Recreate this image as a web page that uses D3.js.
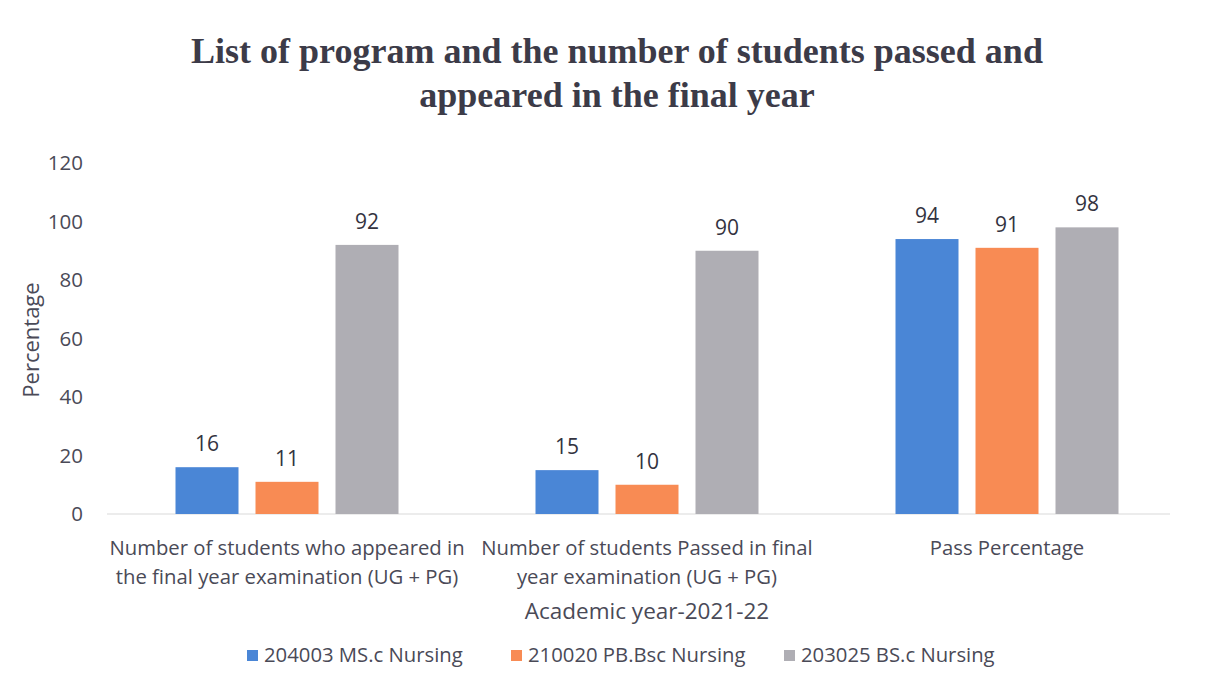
<!DOCTYPE html>
<html><head><meta charset="utf-8">
<script src="https://cdn.jsdelivr.net/npm/d3@7"></script>
<style>
body{margin:0;background:#fff;}
svg{display:block;}
</style></head>
<body>
<svg id="chart" width="1220" height="685"></svg>
<script>
const categories = [
  ["Number of students who appeared in", "the final year examination (UG + PG)"],
  ["Number of students Passed in final", "year examination (UG + PG)"],
  ["Pass Percentage"]
];
const seriesNames = ["204003 MS.c Nursing", "210020 PB.Bsc Nursing", "203025 BS.c Nursing"];
const msc = [16, 15, 94];
const pbbsc = [11, 10, 91];
const bsc = [92, 90, 98];
const yTicks = [0, 20, 40, 60, 80, 100, 120];
const colors = ["#4a86d6", "#f88b54", "#afaeb4"];

(function () {
const seriesValues = [msc, pbbsc, bsc];
const svg = d3.select("#chart");
const font = "'Open Sans', sans-serif";
const textColor = "#4a4a57";

const pLeft = 107, pRight = 1187, pTop = 163, pBottom = 514;
const x0 = d3.scaleBand().domain(d3.range(categories.length)).range([pLeft, pRight]).paddingInner(0).paddingOuter(0);
const x1 = d3.scaleBand().domain(d3.range(seriesNames.length)).range([0, 223]).paddingInner(17/80).paddingOuter(0);
const y = d3.scaleLinear().domain([0, 120]).range([pBottom, pTop]);

// title
const title = svg.append("text").attr("x", 617).attr("y", 63).attr("text-anchor", "middle")
  .attr("font-family", "'Liberation Serif', 'Times New Roman', serif").attr("font-weight", "bold")
  .attr("font-size", 36).attr("fill", "#3c3b48");
title.append("tspan").attr("x", 617).attr("y", 63).text("List of program and the number of students passed and");
title.append("tspan").attr("x", 617).attr("y", 107).text("appeared in the final year");

// y axis
const yAxis = d3.axisLeft(y).tickValues(yTicks).tickSize(0).tickPadding(24);
const ya = svg.append("g").attr("transform", `translate(${pLeft},0)`).call(yAxis);
ya.select(".domain").remove();
ya.selectAll("text").attr("font-family", font).attr("font-size", 20.5).attr("fill", textColor);

// baseline
svg.append("line").attr("x1", pLeft).attr("x2", 1170).attr("y1", pBottom).attr("y2", pBottom)
  .attr("stroke", "#d9d9d9").attr("stroke-width", 1);

// bars
const groups = svg.selectAll("g.grp").data(categories).enter().append("g").attr("class", "grp")
  .attr("transform", (d, i) => `translate(${x0(i) + (x0.bandwidth() - 223) / 2},0)`);
groups.each(function(d, ci) {
  const g = d3.select(this);
  seriesValues.forEach((vals, si) => {
    g.append("rect").attr("x", x1(si)).attr("width", x1.bandwidth())
      .attr("y", y(vals[ci])).attr("height", y(0) - y(vals[ci])).attr("fill", colors[si]);
    g.append("text").attr("x", x1(si) + x1.bandwidth() / 2).attr("y", y(vals[ci]) - 16)
      .attr("text-anchor", "middle").attr("font-family", font).attr("font-size", 21)
      .attr("fill", "#333340").text(vals[ci]);
  });
});

// x category labels
groups.each(function(d, ci) {
  const t = d3.select(this).append("text").attr("text-anchor", "middle")
    .attr("font-family", font).attr("font-size", 20.3).attr("fill", textColor);
  d.forEach((line, li) => {
    t.append("tspan").attr("x", 111.5).attr("y", 555 + li * 29).text(line);
  });
});

// x axis title
svg.append("text").attr("x", 647).attr("y", 619).attr("text-anchor", "middle")
  .attr("font-family", font).attr("font-size", 22.5).attr("fill", textColor).text("Academic year-2021-22");

// y axis title
svg.append("text").attr("transform", "translate(39,340) rotate(-90)").attr("text-anchor", "middle")
  .attr("font-family", font).attr("font-size", 22).attr("fill", textColor).text("Percentage");

// legend
const legendX = [247, 511, 784];
const lg = svg.selectAll("g.leg").data(seriesNames).enter().append("g").attr("class", "leg")
  .attr("transform", (d, i) => `translate(${legendX[i]},650)`);
lg.append("rect").attr("width", 11).attr("height", 11).attr("fill", (d, i) => colors[i]);
lg.append("text").attr("x", 17).attr("y", 12).attr("font-family", font).attr("font-size", 20.3)
  .attr("fill", textColor).text(d => d);
})();
</script>
</body></html>
